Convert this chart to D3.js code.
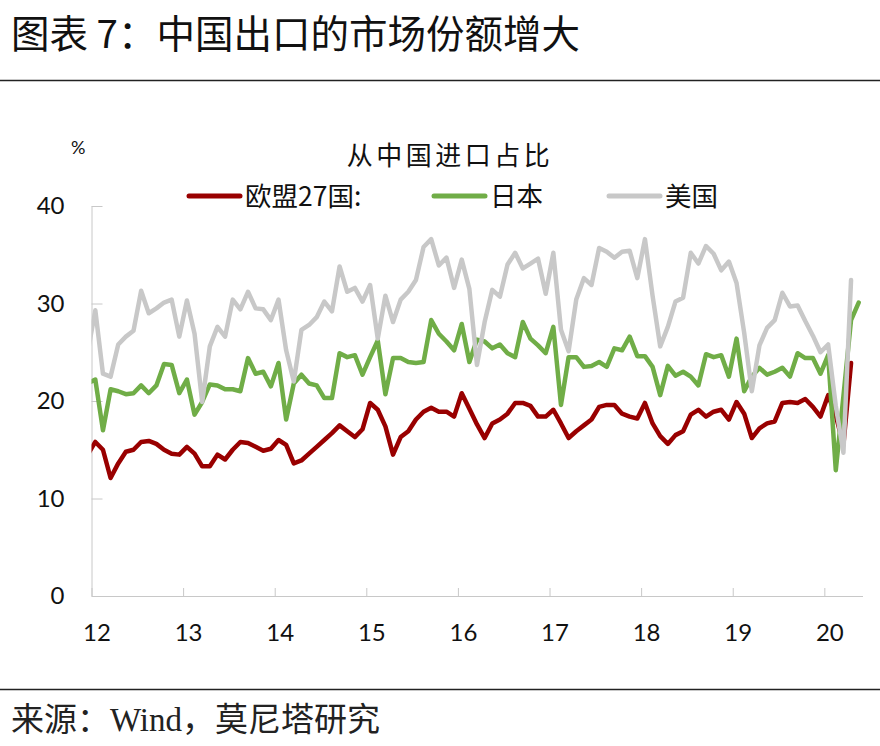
<!DOCTYPE html>
<html><head><meta charset="utf-8">
<script src="https://cdn.jsdelivr.net/npm/d3@7/dist/d3.min.js"></script>
<style>body{margin:0;background:#fff} svg{display:block}</style>
</head><body>
<svg id="c" width="880" height="746"></svg>
<script>
// Monthly values, first value = Dec 2011 (month index -1; Jan 2012 = 0)
const firstMonthIndex = -1;
const yearTicks = [0, 12, 24, 36, 48, 60, 72, 84, 96];
const yearLabels = ["12", "13", "14", "15", "16", "17", "18", "19", "20"];
const yTicks = [0, 10, 20, 30, 40];
const seriesNames = ["欧盟27国:", "日本", "美国"];
const seriesColors = ["#990000", "#70AD47", "#C8C8C8"];

const eu = [14.5,
 15.8,15.0,12.1,13.6,14.8,15.0,15.8,15.9,15.6,15.0,14.6,14.5,
 15.3,14.6,13.3,13.3,14.5,14.0,15.0,15.8,15.7,15.3,14.9,15.1,
 16.0,15.5,13.6,13.9,14.6,15.3,16.0,16.7,17.5,16.9,16.3,17.1,
 19.8,19.1,17.4,14.5,16.3,16.9,18.1,18.9,19.3,18.9,18.9,18.4,
 20.8,19.2,17.6,16.2,17.7,18.1,18.7,19.8,19.8,19.5,18.4,18.4,
 19.1,17.7,16.2,16.9,17.5,18.1,19.4,19.6,19.6,18.7,18.4,18.2,
 19.8,17.7,16.4,15.6,16.5,16.9,18.6,19.1,18.4,18.9,19.1,18.1,
 19.9,18.7,16.2,17.2,17.7,17.9,19.8,19.9,19.8,20.2,19.4,18.4,
 20.6,18.5,15.5,23.9];

const japan = [21.8,
 22.2,17.0,21.2,21.0,20.7,20.8,21.6,20.8,21.6,23.8,23.7,20.8,
 22.2,18.6,19.9,21.7,21.6,21.2,21.2,21.0,24.4,22.8,23.0,21.5,
 23.9,18.1,21.8,22.7,21.8,21.6,20.3,20.3,24.9,24.5,24.7,22.7,
 24.5,26.2,20.7,24.4,24.4,24.0,23.9,24.0,28.3,26.9,26.1,25.2,
 27.9,24.0,26.3,26.1,25.4,25.8,24.9,24.5,28.1,26.4,25.7,24.9,
 27.6,19.6,24.5,24.5,23.5,23.6,24.0,23.5,25.4,25.2,26.6,24.6,
 24.6,23.5,20.6,23.6,22.6,23.0,22.5,21.6,24.8,24.5,24.7,22.5,
 26.4,21.0,22.5,23.4,22.7,23.0,23.4,22.5,24.9,24.4,24.4,22.8,
 24.7,12.9,20.5,28.3,30.1];

const us = [25.0,
 29.3,22.8,22.5,25.8,26.6,27.2,31.3,29.0,29.5,30.1,30.4,26.6,
 30.3,26.9,19.9,25.6,27.6,26.6,30.4,29.4,31.2,29.5,29.4,28.3,
 30.4,25.2,22.0,27.3,27.8,28.6,30.2,29.2,33.8,31.2,31.6,30.2,
 31.9,26.4,30.8,28.1,30.4,31.2,32.4,35.8,36.6,33.9,34.7,31.6,
 34.5,31.5,23.7,28.1,31.4,30.7,34.0,35.2,33.6,34.1,34.6,31.0,
 35.2,27.3,25.1,30.4,32.6,31.9,35.7,35.3,34.7,35.3,35.4,32.6,
 36.6,30.8,25.6,27.6,30.2,30.6,35.2,34.1,35.9,35.1,33.4,34.3,
 32.1,27.0,21.0,25.7,27.5,28.3,31.1,29.7,29.8,28.2,26.7,25.0,
 25.8,19.5,14.7,32.4];

const seriesValues = [eu, japan, us];

const svg = d3.select("#c");
const cjk = "'Noto Sans CJK SC', 'Noto Sans', sans-serif";
const num = "Lato, 'Liberation Sans', sans-serif";

// Title and rules
svg.append("text").attr("x", 11).attr("y", 48)
  .attr("font-family", cjk).attr("font-size", 38.5).attr("fill", "#111")
  .text("图表 7：中国出口的市场份额增大");
svg.append("line").attr("x1", 0).attr("x2", 880).attr("y1", 80.5).attr("y2", 80.5)
  .attr("stroke", "#222").attr("stroke-width", 1.3);
svg.append("line").attr("x1", 0).attr("x2", 880).attr("y1", 689.5).attr("y2", 689.5)
  .attr("stroke", "#222").attr("stroke-width", 1.3);
const src = svg.append("text").attr("x", 11).attr("y", 731)
  .attr("font-family", cjk).attr("font-size", 33).attr("fill", "#222");
src.append("tspan").text("来源：");
src.append("tspan").attr("font-family", "'Liberation Serif', serif").text("Wind");
src.append("tspan").text("，莫尼塔研究");

// Scales
const x = d3.scaleLinear().domain([0, 101]).range([91.5, 862.5]);
const y = d3.scaleLinear().domain([0, 40]).range([596, 206]);

// Axes
const xAxis = d3.axisBottom(x).tickValues(yearTicks)
  .tickFormat((d, i) => yearLabels[i]).tickSizeInner(-8).tickSizeOuter(0).tickPadding(28);
const gx = svg.append("g").attr("transform", `translate(0,${y(0)})`).call(xAxis);
gx.select(".domain").attr("stroke", "#c8c8c8");
gx.selectAll(".tick line").attr("stroke", "#c8c8c8");
gx.selectAll(".tick text").attr("font-family", num).attr("font-size", 24)
  .attr("fill", "#111").attr("dx", 5);

const yAxis = d3.axisLeft(y).tickValues(yTicks).tickSizeInner(-11).tickSizeOuter(0).tickPadding(27);
const gy = svg.append("g").attr("transform", `translate(${x(0)},0)`).call(yAxis);
gy.select(".domain").attr("stroke", "#c8c8c8");
gy.selectAll(".tick line").attr("stroke", "#c8c8c8");
gy.selectAll(".tick text").attr("font-family", num).attr("font-size", 24).attr("fill", "#111");

// Unit and chart title
svg.append("text").attr("x", 71).attr("y", 154).attr("font-family", num)
  .attr("font-size", 18).attr("fill", "#111").text("%");
svg.append("text").attr("x", 450).attr("y", 165).attr("text-anchor", "middle")
  .attr("font-family", cjk).attr("font-size", 26).attr("letter-spacing", 3.5)
  .attr("fill", "#111").text("从中国进口占比");

// Lines
svg.append("clipPath").attr("id", "plot").append("rect")
  .attr("x", x(0)).attr("y", 150).attr("width", x(101) - x(0)).attr("height", 460);
const line = d3.line()
  .x((d, i) => x(firstMonthIndex + i + 0.5))
  .y(d => y(d));
const lg = svg.append("g").attr("clip-path", "url(#plot)");
seriesValues.forEach((vals, s) => {
  lg.append("path").datum(vals).attr("d", line)
    .attr("fill", "none").attr("stroke", seriesColors[s])
    .attr("stroke-width", 4.5).attr("stroke-linejoin", "round").attr("stroke-linecap", "round");
});

// Legend
const legendX = [189, 434, 609];
seriesNames.forEach((name, s) => {
  svg.append("line").attr("x1", legendX[s]).attr("x2", legendX[s] + 51)
    .attr("y1", 196).attr("y2", 196).attr("stroke", seriesColors[s])
    .attr("stroke-width", 5).attr("stroke-linecap", "round");
  svg.append("text").attr("x", legendX[s] + 56).attr("y", 206)
    .attr("font-family", cjk).attr("font-size", 26.5).attr("fill", "#111").text(name);
});
</script>
</body></html>
